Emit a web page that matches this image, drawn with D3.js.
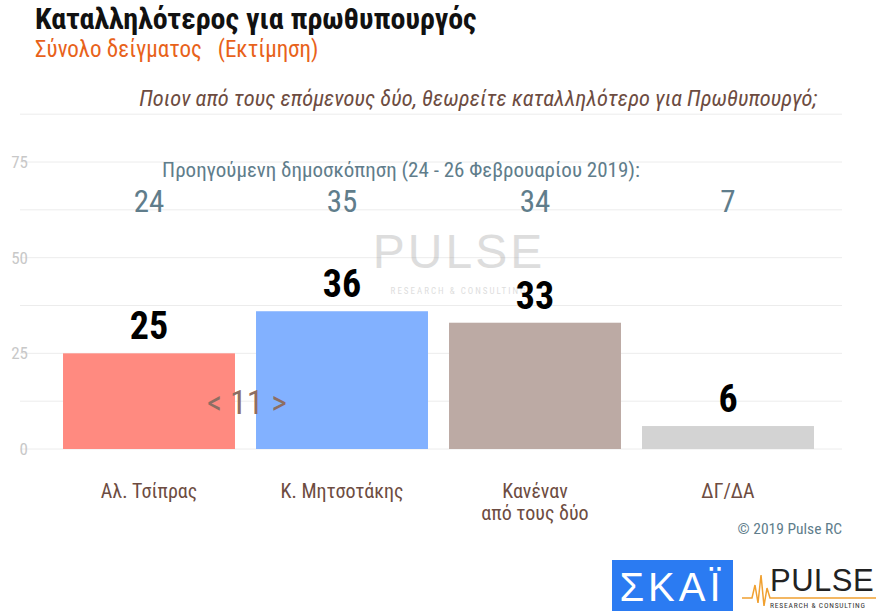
<!DOCTYPE html>
<html><head><meta charset="utf-8">
<script src="https://cdnjs.cloudflare.com/ajax/libs/d3/7.8.5/d3.min.js"></script>
<style>body{margin:0;background:#fff}svg{font-family:"Liberation Sans Narrow","Roboto Condensed","Roboto",sans-serif}</style>
</head><body><svg id="c" width="880" height="613"></svg>
<script>
const categories = ["Αλ. Τσίπρας","Κ. Μητσοτάκης","Κανέναν|από τους δύο","ΔΓ/ΔΑ"];
const values = [25,36,33,6];
const previous = [24,35,34,7];
const colors = ["#ff8a80","#82b1ff","#bcaaa4","#d3d3d3"];
const yTicks = [0,25,50,75];

const svg = d3.select("#c");
const y = d3.scaleLinear().domain([0,75]).range([449,162]);
const x = d3.scaleBand().domain(categories).range([52.5,824.5]).paddingInner(0.109).paddingOuter(0.0545);

svg.append("text").attr("x",35).attr("y",29).attr("font-size",30).attr("font-weight","bold").attr("fill","#111").text("Καταλληλότερος για πρωθυπουργός");
svg.append("text").attr("x",35).attr("y",57).attr("font-size",23).attr("fill","#e8621a").attr("xml:space","preserve").text("Σύνολο δείγματος   (Εκτίμηση)");
svg.append("text").attr("x",817).attr("y",106).attr("text-anchor","end").attr("font-size",22.5).attr("font-style","italic").attr("fill","#6d4c41").text("Ποιον από τους επόμενους δύο, θεωρείτε καταλληλότερο για Πρωθυπουργό;");

const grid = d3.range(0,87.6,12.5);
svg.append("g").selectAll("line").data(grid).join("line")
  .attr("x1",20).attr("x2",842).attr("y1",d=>y(d)).attr("y2",d=>y(d)).attr("stroke","#ececec");
svg.append("g").selectAll("text").data(yTicks).join("text")
  .attr("x",28).attr("y",d=>y(d)+6).attr("text-anchor","end").attr("font-size",17).attr("fill","#c8c8c8").text(d=>d);

const wm = svg.append("g").attr("opacity",0.28);
wm.append("text").attr("x",459).attr("y",268).attr("text-anchor","middle").attr("font-size",48).attr("fill","#888").attr("font-family","Liberation Sans, sans-serif").attr("letter-spacing",3).text("PULSE");
wm.append("text").attr("x",459).attr("y",294).attr("text-anchor","middle").attr("font-size",9).attr("fill","#888").attr("letter-spacing",2).text("RESEARCH & CONSULTING");

svg.append("g").selectAll("rect").data(values).join("rect")
  .attr("x",(d,i)=>x(categories[i])).attr("width",x.bandwidth())
  .attr("y",d=>y(d)).attr("height",d=>y(0)-y(d)).attr("fill",(d,i)=>colors[i]);

svg.append("g").selectAll("text").data(values).join("text")
  .attr("x",(d,i)=>x(categories[i])+x.bandwidth()/2).attr("y",d=>y(d)-14)
  .attr("text-anchor","middle").attr("font-size",38).attr("font-weight","bold").attr("fill","#000").text(d=>d);

svg.append("text").attr("x",401).attr("y",177).attr("text-anchor","middle").attr("font-size",21).attr("fill","#607d8b").text("Προηγούμενη δημοσκόπηση (24 - 26 Φεβρουαρίου 2019):");
svg.append("g").selectAll("text").data(previous).join("text")
  .attr("x",(d,i)=>x(categories[i])+x.bandwidth()/2).attr("y",212)
  .attr("text-anchor","middle").attr("font-size",31).attr("fill","#607d8b").text(d=>d);

svg.append("text").attr("x",247).attr("y",414).attr("text-anchor","middle").attr("font-size",34).attr("fill","#8d6e63").text("< 11 >");

categories.forEach((c,i)=>{
  const t = svg.append("text").attr("x",x(c)+x.bandwidth()/2).attr("y",498).attr("text-anchor","middle").attr("font-size",20).attr("fill","#6d4c41");
  c.split("|").forEach((s,j)=>t.append("tspan").attr("x",x(c)+x.bandwidth()/2).attr("dy",j?22:0).text(s));
});

svg.append("text").attr("x",842).attr("y",534).attr("text-anchor","end").attr("font-size",15.5).attr("fill","#607d8b").text("© 2019 Pulse RC");

svg.append("rect").attr("x",612).attr("y",560).attr("width",121).attr("height",51).attr("fill","#2b7bf2");
svg.append("text").attr("x",672).attr("y",601).attr("text-anchor","middle").attr("font-size",40).attr("fill","#fff").attr("font-family","Liberation Sans, sans-serif").attr("letter-spacing",4).text("ΣΚΑΪ");
svg.append("path").attr("d","M742,598 L752,598 L755,585 L758,603 L761,575 L764,606 L767,588 L770,598 L876,598").attr("fill","none").attr("stroke","#f0a030").attr("stroke-width",1.5);
svg.append("text").attr("x",770).attr("y",591).attr("font-size",31).attr("fill","#222").attr("font-family","Liberation Sans, sans-serif").attr("letter-spacing",0.5).text("PULSE");
svg.append("text").attr("x",770).attr("y",608).attr("font-size",7.5).attr("fill","#333").attr("letter-spacing",0.8).text("RESEARCH & CONSULTING");
</script></body></html>
